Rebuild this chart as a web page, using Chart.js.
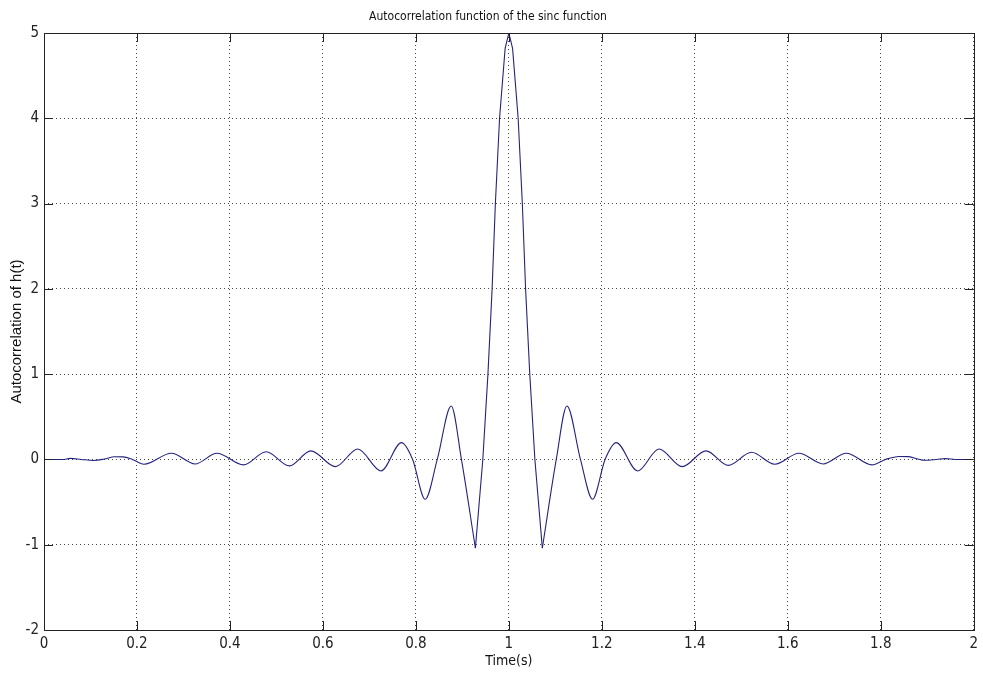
<!DOCTYPE html>
<html>
<head>
<meta charset="utf-8">
<title>Autocorrelation function of the sinc function</title>
<script src="https://cdn.jsdelivr.net/npm/chart.js@4.4.1/dist/chart.umd.min.js"></script>
<style>
    html, body { margin: 0; padding: 0; background: #fff; }
    #wrap { width: 983px; height: 674px; }
</style>
</head>
<body>
<div id="wrap"><canvas id="acfChart" width="983" height="674"></canvas></div>
<script>
// Values (time in s, autocorrelation of h(t))
const timeValues = [
    0, 0.04, 0.057, 0.08, 0.107, 0.13, 0.152, 0.17, 0.19, 0.215,
    0.274, 0.325, 0.372, 0.429, 0.478, 0.528, 0.574, 0.627, 0.675, 0.725,
    0.769, 0.793, 0.820, 0.846, 0.876, 0.898, 0.928, 0.944, 0.955, 0.964,
    0.971, 0.980, 0.992, 1.0, 1.008, 1.020, 1.029, 1.036, 1.045, 1.056,
    1.072, 1.102, 1.125, 1.154, 1.180, 1.207, 1.231, 1.277, 1.323, 1.373,
    1.424, 1.472, 1.522, 1.572, 1.624, 1.676, 1.726, 1.781, 1.81, 1.84,
    1.86, 1.88, 1.894, 1.92, 1.94, 1.96, 2.0
];
const acfValues = [
    0, 0, 0.012, 0, -0.012, 0.005, 0.032, 0.03, 0, -0.056,
    0.073, -0.053, 0.073, -0.064, 0.09, -0.076, 0.1, -0.084, 0.123, -0.135,
    0.197, 0, -0.467, 0, 0.627, 0, -1.04, 0, 1, 2,
    3, 4, 4.82, 5.0, 4.82, 4, 3, 2, 1, 0,
    -1.04, 0, 0.627, 0, -0.467, 0, 0.197, -0.135, 0.123, -0.084,
    0.1, -0.07, 0.084, -0.056, 0.073, -0.053, 0.073, -0.064, 0, 0.035,
    0.033, 0.005, -0.01, 0, 0.01, 0, 0
];
const xTickLabels = ['0', '0.2', '0.4', '0.6', '0.8', '1', '1.2', '1.4', '1.6', '1.8', '2'];
const yTickLabels = ['-2', '-1', '0', '1', '2', '3', '4', '5'];

// main lobe runs between the two deepest minima and is drawn with straight segments
const lobeStart = 0.928;
const lobeEnd = 1.072;

const points = timeValues.map((t, i) => ({ x: t, y: acfValues[i] }));
const leftTail = points.filter(p => p.x <= lobeStart);
const mainLobe = points.filter(p => p.x >= lobeStart && p.x <= lobeEnd);
const rightTail = points.filter(p => p.x >= lobeEnd);

const narrowFont = '"Liberation Sans Narrow", "DejaVu Sans Condensed", "Arial Narrow", "Liberation Sans", sans-serif';
const lineColor = '#24247e';

// MATLAB style box with ticks pointing inwards on all four sides
const matlabFrame = {
    id: 'matlabFrame',
    afterDraw(chart) {
        const ctx = chart.ctx;
        const area = chart.chartArea;
        const xs = chart.scales.x;
        const ys = chart.scales.y;
        const len = 9;
        ctx.save();
        ctx.strokeStyle = '#222';
        ctx.lineWidth = 1;
        ctx.beginPath();
        xs.ticks.forEach(tk => {
            const px = Math.round(xs.getPixelForValue(tk.value)) + 0.5;
            ctx.moveTo(px, area.bottom); ctx.lineTo(px, area.bottom - len);
            ctx.moveTo(px, area.top); ctx.lineTo(px, area.top + len);
        });
        ys.ticks.forEach(tk => {
            const py = Math.round(ys.getPixelForValue(tk.value)) + 0.5;
            ctx.moveTo(area.left, py); ctx.lineTo(area.left + len, py);
            ctx.moveTo(area.right, py); ctx.lineTo(area.right - len, py);
        });
        ctx.stroke();
        ctx.strokeRect(Math.round(area.left) + 0.5, Math.round(area.top) + 0.5,
            Math.round(area.right - area.left), Math.round(area.bottom - area.top));
        ctx.restore();
    }
};

const whiteBg = {
    id: 'whiteBg',
    beforeDraw(chart) {
        const ctx = chart.ctx;
        ctx.save();
        ctx.fillStyle = '#fff';
        ctx.fillRect(0, 0, chart.width, chart.height);
        ctx.restore();
    }
};

function curve(data, smooth) {
    return {
        data: data,
        borderColor: lineColor,
        borderWidth: 1.1,
        pointRadius: 0,
        fill: false,
        tension: 0,
        cubicInterpolationMode: smooth ? 'monotone' : 'default'
    };
}

document.addEventListener('DOMContentLoaded', function() {
    const canvas = document.getElementById('acfChart');

    new Chart(canvas, {
        type: 'line',
        data: {
            datasets: [curve(leftTail, true), curve(mainLobe, false), curve(rightTail, true)]
        },
        options: {
            responsive: false,
            animation: false,
            layout: { padding: { left: 0, right: 7, top: 0, bottom: 0 } },
            plugins: {
                legend: { display: false },
                tooltip: { enabled: false },
                title: {
                    display: true,
                    text: 'Autocorrelation function of the sinc function',
                    color: '#111',
                    font: { family: narrowFont, size: 12, weight: 'normal' },
                    padding: { top: 10, bottom: 8.6 }
                }
            },
            scales: {
                x: {
                    type: 'linear',
                    min: 0,
                    max: 2,
                    afterFit(scale) { scale.height = 44; },
                    ticks: {
                        stepSize: 0.2,
                        color: '#222',
                        padding: 5,
                        maxRotation: 0,
                        autoSkip: false,
                        font: { family: narrowFont, size: 15 },
                        callback: (value, index) => xTickLabels[index]
                    },
                    grid: { color: '#444', lineWidth: 1, drawTicks: false },
                    border: { display: false, dash: [1, 3] },
                    title: {
                        display: true,
                        text: 'Time(s)',
                        color: '#111',
                        font: { family: narrowFont, size: 14 },
                        padding: { top: 0, bottom: 4 }
                    }
                },
                y: {
                    min: -2,
                    max: 5,
                    afterFit(scale) { scale.width = 44; },
                    ticks: {
                        stepSize: 1,
                        color: '#222',
                        padding: 5,
                        font: { family: narrowFont, size: 15 },
                        callback: (value, index) => yTickLabels[index]
                    },
                    grid: { color: '#444', lineWidth: 1, drawTicks: false },
                    border: { display: false, dash: [1, 3] },
                    title: {
                        display: true,
                        text: 'Autocorrelation of h(t)',
                        color: '#111',
                        font: { family: '"Liberation Sans", Arial, sans-serif', size: 15 },
                        padding: { top: 8, bottom: 0 }
                    }
                }
            }
        },
        plugins: [whiteBg, matlabFrame]
    });
});
</script>
</body>
</html>
